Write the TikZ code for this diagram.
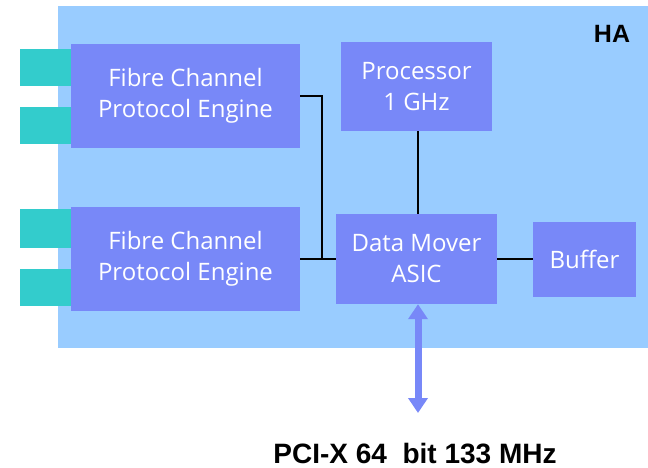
\documentclass[tikz,border=0pt]{standalone}
\usepackage{fontspec}
\setmainfont{Open Sans}
\newfontfamily\labelfont{Liberation Sans}
\usetikzlibrary{arrows.meta}
\definecolor{haBlue}{HTML}{99CCFF}
\definecolor{blockBlue}{HTML}{7888F8}
\definecolor{portTeal}{HTML}{33CCCC}

\begin{document}
\begin{tikzpicture}[x=1pt, y=-1pt]
  \tikzset{block/.style={fill=blockBlue, text=white, align=center, inner sep=0pt,
      font=\fontsize{24}{31}\selectfont},
    port/.style={fill=portTeal, minimum width=51pt, inner sep=0pt},
    wire/.style={line width=1.8pt, black}}
  \useasboundingbox (0,0) rectangle (648,468);
  \fill[haBlue] (58,6) rectangle (648,348);
  \node[font=\labelfont\bfseries\fontsize{25}{30}\selectfont, anchor=base] (ha) at (612,43) {HA};
  % ports
  \node[port, minimum height=37pt] (p1) at (45.5,67.5) {};
  \node[port, minimum height=37pt] (p2) at (45.5,125.5) {};
  \node[port, minimum height=39pt] (p3) at (45.5,228.5) {};
  \node[port, minimum height=37pt] (p4) at (45.5,287.5) {};
  % blocks
  \node[block, minimum width=229pt, minimum height=104pt] (fc1) at (185.5,96) {Fibre Channel\\Protocol Engine};
  \node[block, minimum width=229pt, minimum height=104pt] (fc2) at (185.5,259) {Fibre Channel\\Protocol Engine};
  \node[block, minimum width=151pt, minimum height=89pt] (cpu) at (416.5,86.5) {Processor\\1 GHz};
  \node[block, minimum width=161pt, minimum height=90pt] (dm) at (416.5,259) {Data Mover\\ASIC};
  \node[block, minimum width=103pt, minimum height=75pt] (buf) at (584.5,259) {Buffer};
  \node[font=\labelfont\bfseries\fontsize{28}{32}\selectfont, anchor=base] (pci) at (415,463) {PCI-X 64\ \ bit 133 MHz};
  \coordinate (bus) at (322,259);
  \coordinate (pciend) at (418,413);
  % connectors
  \draw[wire] (fc1.east) -| (bus);
  \draw[wire] (fc2.east) -- (dm.west);
  \draw[wire] (cpu.south -| pciend) -- (dm.north -| pciend);
  \draw[wire] (dm.east) -- (buf.west);
  \draw[blockBlue, line width=7pt, {Triangle[width=19pt,length=15pt]}-{Triangle[width=19pt,length=15pt]}]
    (dm.south -| pciend) -- (pciend);
\end{tikzpicture}
\end{document}
